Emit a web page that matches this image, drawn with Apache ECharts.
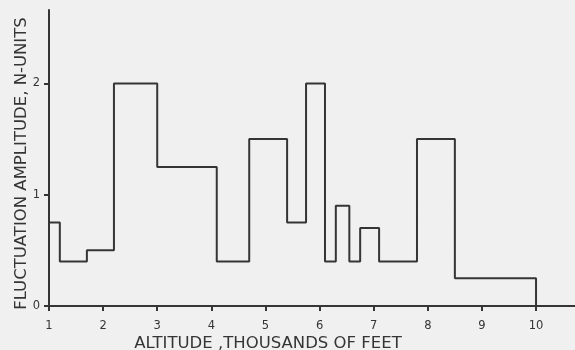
<!DOCTYPE html>
<html>
<head>
<meta charset="utf-8">
<script src="https://cdn.jsdelivr.net/npm/echarts@6/dist/echarts.min.js"></script>
<style>
  html, body { margin: 0; padding: 0; background: #f0f0f0; }
  #chart { width: 575px; height: 350px; }
</style>
</head>
<body>
<div id="chart"></div>
<script>
// Altitude band edges (thousands of feet) and the amplitude held across each band
const bandEdges = [1.0, 1.2, 1.7, 2.2, 3.0, 4.1, 4.7, 5.4, 5.75, 6.1, 6.3, 6.55, 6.75, 7.1, 7.8, 8.5, 10.0];
const amplitudes = [0.75, 0.4, 0.5, 2.0, 1.25, 0.4, 1.5, 0.75, 2.0, 0.4, 0.9, 0.4, 0.7, 0.4, 1.5, 0.25];
const xTickValues = [1, 2, 3, 4, 5, 6, 7, 8, 9, 10];
const yTickValues = [0, 1, 2];

// Stair-step outline: each band is a flat run, joined by vertical risers
const stepPoints = [];
amplitudes.forEach((v, i) => {
  stepPoints.push([bandEdges[i], v]);
  stepPoints.push([bandEdges[i + 1], v]);
});
stepPoints.push([bandEdges[bandEdges.length - 1], 0]);

const ink = '#353535';
const chart = echarts.init(document.getElementById('chart'), null, { renderer: 'canvas' });
chart.setOption({
  backgroundColor: '#f0f0f0',
  animation: false,
  grid: { left: 49, right: 0, top: 10, bottom: 44, outerBoundsMode: 'none', containLabel: false },
  xAxis: {
    type: 'value',
    min: 1,
    max: 10.72,
    name: 'ALTITUDE ,THOUSANDS OF FEET',
    nameLocation: 'middle',
    nameGap: 29,
    nameMoveOverlap: false,
    nameTextStyle: { color: ink, fontSize: 16.5, fontFamily: 'DejaVu Sans', padding: [0, 88, 0, 0] },
    axisLine: { show: true, lineStyle: { color: ink, width: 2 } },
    axisTick: { show: true, inside: false, length: 5, customValues: xTickValues, lineStyle: { color: ink, width: 2 } },
    axisLabel: { customValues: xTickValues, color: ink, fontSize: 11.5, fontFamily: 'DejaVu Sans', margin: 14 },
    splitLine: { show: false }
  },
  yAxis: {
    type: 'value',
    min: 0,
    max: 2.66,
    name: 'FLUCTUATION AMPLITUDE, N-UNITS',
    nameLocation: 'middle',
    nameGap: 19,
    nameMoveOverlap: false,
    nameRotate: 90,
    nameTextStyle: { color: ink, fontSize: 16.5, fontFamily: 'DejaVu Sans', padding: [0, 11, 0, 0] },
    axisLine: { show: true, lineStyle: { color: ink, width: 2 } },
    axisTick: { show: true, inside: false, length: 5, customValues: yTickValues, lineStyle: { color: ink, width: 2 } },
    axisLabel: { customValues: yTickValues, color: ink, fontSize: 11.5, fontFamily: 'DejaVu Sans', margin: 9 },
    splitLine: { show: false }
  },
  series: [{
    type: 'line',
    data: stepPoints,
    showSymbol: false,
    symbol: 'none',
    lineStyle: { color: ink, width: 2 },
    clip: false
  }]
});
</script>
</body>
</html>
